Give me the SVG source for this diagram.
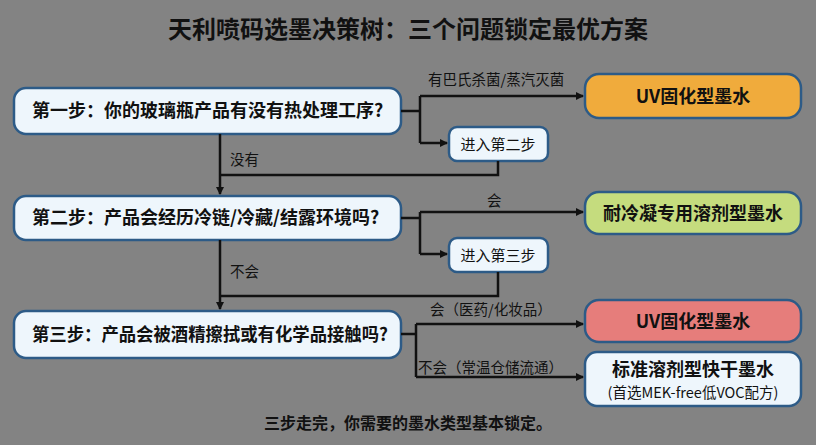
<svg xmlns="http://www.w3.org/2000/svg" width="816" height="445" viewBox="0 0 816 445">
<style>
text{font-family:"Noto Sans CJK SC","Liberation Sans",sans-serif;fill:#111}
.q{fill:#eef6fc;stroke:#2d5b87;stroke-width:2.5}
.qt{font-size:18px;font-weight:bold}
.rt{font-size:18px;font-weight:bold;text-anchor:middle}
.lb{font-size:14.5px}
.c{fill:none;stroke:#111;stroke-width:2.5}
</style>
<defs><marker id="a" markerWidth="8" markerHeight="8" refX="7" refY="4" orient="auto" markerUnits="userSpaceOnUse"><path d="M0,0L8,4L0,8z" fill="#111"/></marker></defs>
<rect width="816" height="445" fill="#838383"/>
<text x="408" y="38" font-size="24" font-weight="bold" text-anchor="middle">天利喷码选墨决策树：三个问题锁定最优方案</text>
<g id="step1"><rect class="q" x="14" y="88" width="387" height="46" rx="12"/><text class="qt" x="32" y="117">第一步：你的玻璃瓶产品有没有热处理工序?</text></g>
<g id="step2"><rect class="q" x="14" y="196" width="387" height="44" rx="12"/><text class="qt" x="32" y="224">第二步：产品会经历冷链/冷藏/结露环境吗?</text></g>
<g id="step3"><rect class="q" x="14" y="311" width="387" height="47" rx="12"/><text class="qt" x="32" y="341" textLength="356" lengthAdjust="spacingAndGlyphs">第三步：产品会被酒精擦拭或有化学品接触吗?</text></g>
<g id="uv1"><rect x="585" y="74" width="216" height="44" rx="14" fill="#f0ab3c" stroke="#2d5b87" stroke-width="2.5"/><text class="rt" x="693" y="103">UV固化型墨水</text></g>
<g id="next2"><rect class="q" x="449" y="127" width="99" height="34" rx="8"/><text x="498" y="150" font-size="15" text-anchor="middle">进入第二步</text></g>
<g id="cold"><rect x="585" y="192" width="216" height="42" rx="14" fill="#c5dc7e" stroke="#2d5b87" stroke-width="2.5"/><text class="rt" x="693" y="220">耐冷凝专用溶剂型墨水</text></g>
<g id="next3"><rect class="q" x="449" y="238" width="99" height="34" rx="8"/><text x="498" y="261" font-size="15" text-anchor="middle">进入第三步</text></g>
<g id="uv2"><rect x="585" y="300" width="216" height="42" rx="14" fill="#e67d7b" stroke="#2d5b87" stroke-width="2.5"/><text class="rt" x="693" y="328">UV固化型墨水</text></g>
<g id="std"><rect class="q" x="585" y="352" width="216" height="54" rx="12"/><text class="rt" x="693" y="376">标准溶剂型快干墨水</text><text x="693" y="398" font-size="14.5" text-anchor="middle">(首选MEK-free低VOC配方)</text></g>
<g id="connectors">
<path class="c" d="M401,111H420M420,96V143"/>
<path class="c" d="M420,96H583" marker-end="url(#a)"/>
<path class="c" d="M420,143H447" marker-end="url(#a)"/>
<path class="c" d="M498,161V175H220"/>
<path class="c" d="M220,134V194" marker-end="url(#a)"/>
<path class="c" d="M401,218H420M420,212V254"/>
<path class="c" d="M420,212H583" marker-end="url(#a)"/>
<path class="c" d="M420,254H447" marker-end="url(#a)"/>
<path class="c" d="M498,272V296H220"/>
<path class="c" d="M220,240V309" marker-end="url(#a)"/>
<path class="c" d="M401,334H416M416,324V377"/>
<path class="c" d="M416,324H583" marker-end="url(#a)"/>
<path class="c" d="M416,377H583" marker-end="url(#a)"/>
</g>
<text class="lb" x="428" y="85">有巴氏杀菌/蒸汽灭菌</text>
<text class="lb" x="230" y="165">没有</text>
<text class="lb" x="487" y="206">会</text>
<text class="lb" x="230" y="277">不会</text>
<text class="lb" x="430" y="315">会（医药/化妆品）</text>
<text class="lb" x="418" y="373">不会（常温仓储流通）</text>
<text x="408" y="429" font-size="16" font-weight="bold" text-anchor="middle">三步走完，你需要的墨水类型基本锁定。</text>
</svg>
